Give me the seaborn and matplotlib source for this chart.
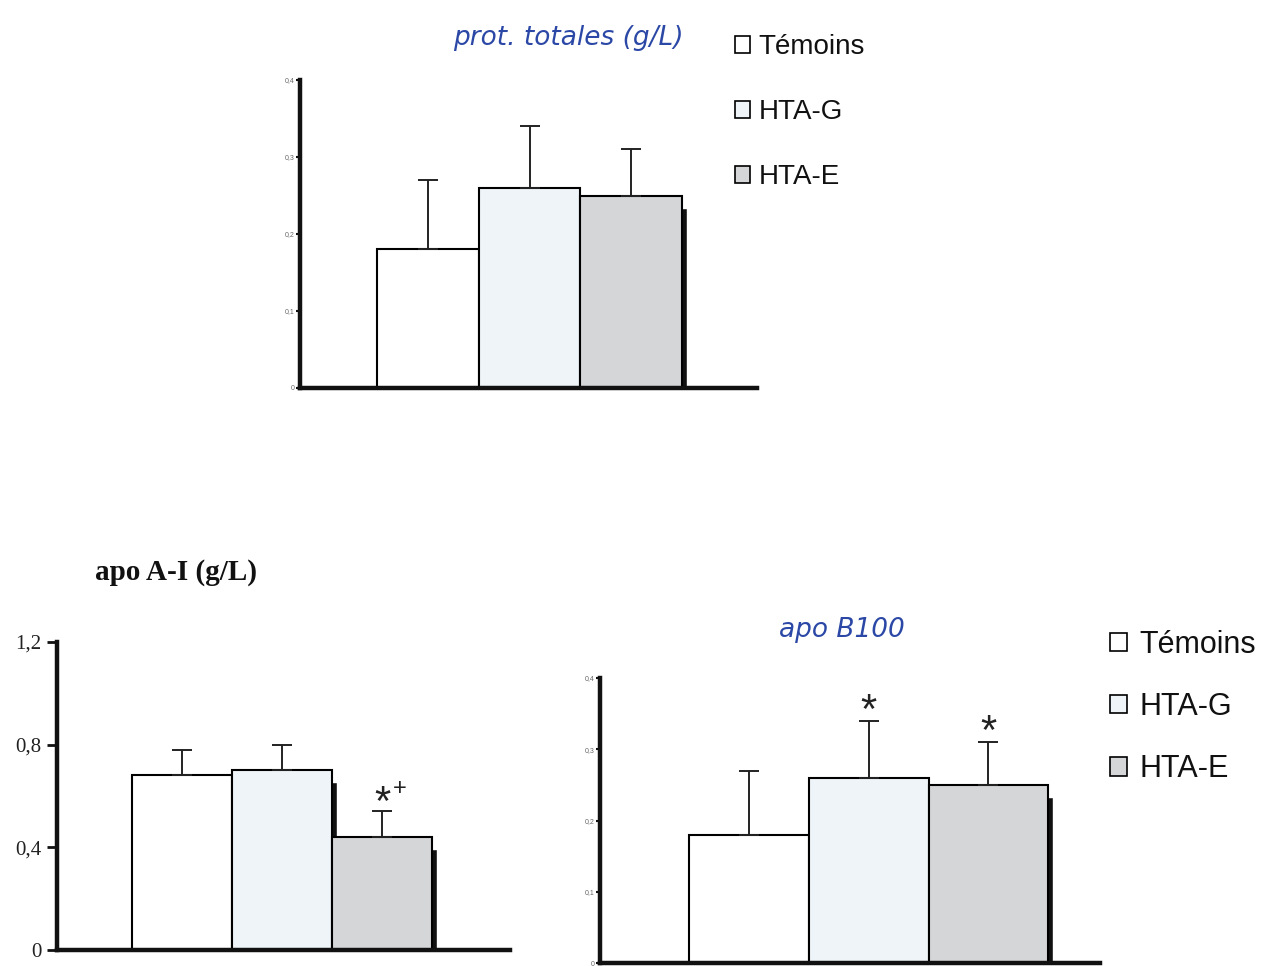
import numpy as np
import pandas as pd
import matplotlib
matplotlib.use("Agg")
import matplotlib.pyplot as plt
from matplotlib.patches import Patch
import seaborn as sns

# ---------------- data ----------------
groups = ["Témoins", "HTA-G", "HTA-E"]
prot_mean = [0.18, 0.26, 0.25]
prot_sd = [0.09, 0.08, 0.06]
apoA_mean = [0.68, 0.70, 0.44]
apoA_sd = [0.10, 0.10, 0.10]
apoB_mean = [0.18, 0.26, 0.25]
apoB_sd = [0.09, 0.08, 0.06]
small_ticks = [0, 0.1, 0.2, 0.3, 0.4]
small_ticklabels = ["0", "0,1", "0,2", "0,3", "0,4"]
apoA_ticks = [0, 0.4, 0.8, 1.2]
apoA_ticklabels = ["0", "0,4", "0,8", "1,2"]

colors = {"Témoins": "#ffffff", "HTA-G": "#eef4f7", "HTA-E": "#d4d6d8"}

sns.set_theme(style="white")
plt.rcParams["font.family"] = ["Liberation Sans", "DejaVu Sans"]

fig = plt.figure(figsize=(12.77, 9.66), dpi=100)
W, H = 1277, 966


def px_axes(x0, x1, y_top, y_bot):
    return fig.add_axes([x0 / W, 1 - y_bot / H, (x1 - x0) / W, (y_bot - y_top) / H])


def panel(ax, means, sds, ylim, xlim, dx, dy):
    df = pd.DataFrame({"group": groups, "value": means})
    pos = np.arange(len(groups))
    # drop shadow
    ax.bar(pos + dx, np.array(means) - dy, width=1, color="#111111", zorder=1)
    sns.barplot(data=df, x="group", y="value", hue="group", order=groups,
                palette=colors, saturation=1, width=1, edgecolor="black",
                linewidth=1.5, legend=False, ax=ax, zorder=3)
    ax.errorbar(pos, means, yerr=[np.zeros(len(sds)), sds], fmt="none",
                ecolor="#222222", elinewidth=1.4, capsize=7, capthick=1.4, zorder=4)
    ax.set_xlim(*xlim)
    ax.set_ylim(*ylim)
    ax.set_xlabel("")
    ax.set_ylabel("")
    ax.set_xticks([])
    for s in ["top", "right"]:
        ax.spines[s].set_visible(False)
    for s in ["left", "bottom"]:
        ax.spines[s].set_linewidth(3.2)
        ax.spines[s].set_color("#111111")
        ax.spines[s].set_zorder(5)
    ax.patch.set_alpha(0)


# ---- top panel: prot. totales ----
ax1 = px_axes(300, 757, 80, 388)
panel(ax1, prot_mean, prot_sd, (0, 0.4), (-1.257, 3.236), 0.05, 0.016)
ax1.set_yticks(small_ticks)
ax1.set_yticklabels(small_ticklabels, fontsize=5, color="#666666")
ax1.tick_params(axis="y", left=True, length=3, width=1.5, color="#111111", pad=1)

# ---- bottom-left: apo A-I ----
ax2 = px_axes(57, 510, 642, 950)
panel(ax2, apoA_mean, apoA_sd, (0, 1.2), (-1.25, 3.28), 0.05, 0.047)
ax2.set_yticks(apoA_ticks)
ax2.set_yticklabels(apoA_ticklabels, fontsize=15, color="#222222",
                    family=["Liberation Serif", "DejaVu Serif"])
ax2.tick_params(axis="y", left=True, length=7, width=2, color="#111111", pad=4)
ax2.annotate("*", xy=(2, apoA_mean[2] + apoA_sd[2]), xytext=(0, -9),
             textcoords="offset points", ha="center", va="bottom", fontsize=30,
             color="#222222")
ax2.annotate("+", xy=(2, apoA_mean[2] + apoA_sd[2]), xytext=(13, 16),
             textcoords="offset points", ha="center", va="center", fontsize=17,
             color="#222222")

# ---- bottom-right: apo B100 ----
ax3 = px_axes(600, 1100, 678, 963)
panel(ax3, apoB_mean, apoB_sd, (0, 0.4), (-1.24, 2.93), 0.042, 0.017)
ax3.set_yticks(small_ticks)
ax3.set_yticklabels(small_ticklabels, fontsize=5, color="#666666")
ax3.tick_params(axis="y", left=True, length=3, width=1.5, color="#111111", pad=1)
for i in (1, 2):
    ax3.annotate("*", xy=(i, apoB_mean[i] + apoB_sd[i]), xytext=(0, -8),
                 textcoords="offset points", ha="center", va="bottom", fontsize=30,
                 color="#222222")

# ---- titles ----
fig.text(568 / W, 1 - 38 / H, "prot. totales (g/L)", ha="center", va="center",
         fontsize=19, style="italic", color="#2b48a6", family="DejaVu Sans")
fig.text(842 / W, 1 - 630 / H, "apo B100", ha="center", va="center",
         fontsize=19, style="italic", color="#2b48a6", family="DejaVu Sans")
fig.text(95 / W, 1 - 573 / H, "apo A-I (g/L)", ha="left", va="center",
         fontsize=21, fontweight="bold", color="#111111",
         family=["Liberation Serif", "DejaVu Serif"])

# ---- legends ----
handles = [Patch(facecolor=colors[g], edgecolor="black", linewidth=1.2, label=g)
           for g in groups]
fig.legend(handles=handles, loc="upper left", bbox_to_anchor=(735 / W, 1 - 34 / H),
           frameon=False, fontsize=20, handlelength=0.55, handleheight=0.55,
           handletextpad=0.3, labelspacing=1.41, borderpad=0, borderaxespad=0,
           labelcolor="#111111")
fig.legend(handles=handles, loc="upper left", bbox_to_anchor=(1110 / W, 1 - 630 / H),
           frameon=False, fontsize=22, handlelength=0.55, handleheight=0.55,
           handletextpad=0.4, labelspacing=1.05, borderpad=0, borderaxespad=0,
           labelcolor="#111111")

fig.savefig("out.png", dpi=100, facecolor="white")
